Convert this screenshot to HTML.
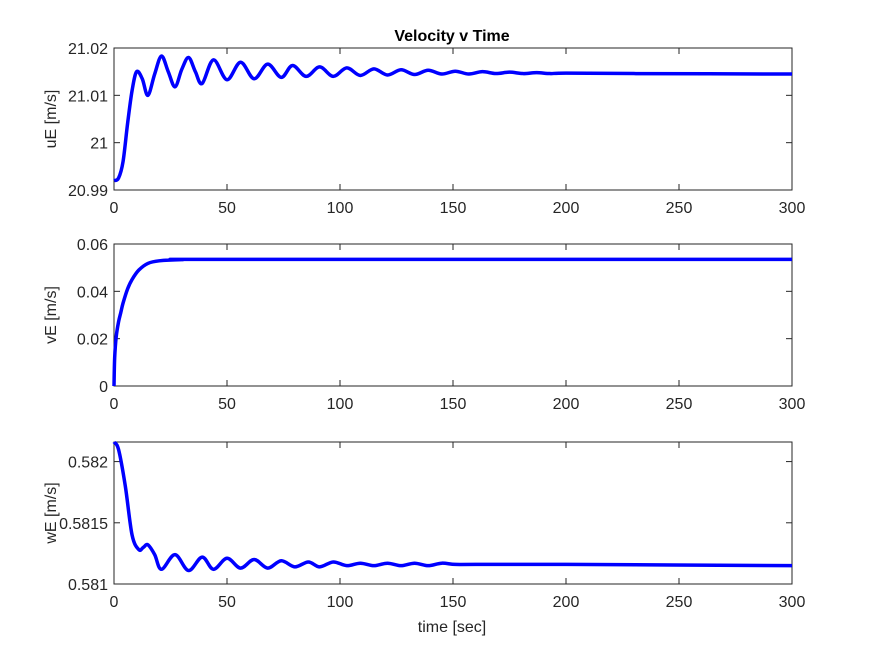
<!DOCTYPE html>
<html><head><meta charset="utf-8"><style>
body{margin:0;background:#fff}
svg text{font-family:"Liberation Sans",Arial,sans-serif;fill:#262626}
</style></head><body>
<svg id="fig" width="875" height="656" xmlns="http://www.w3.org/2000/svg">
<rect width="875" height="656" fill="#fff"/>
<text x="452" y="41" text-anchor="middle" font-size="16" font-weight="bold" style="fill:#000">Velocity v Time</text>
<text x="452" y="632" text-anchor="middle" font-size="16">time [sec]</text>
</svg>
<script>
const xTicks=[0,50,100,150,200,250,300];
const uT=[0,2,4,6,8,10,12.5,15,18,21,24,27,30,33,36,39,44,50,56,62,68,74,79,85,91,97,103,109,115,121,127,133,139,145,151,157,163,169,175,181,187,193,200,230,300];
const uV=[20.992,20.9925,20.996,21.004,21.011,21.015,21.0135,21.010,21.0145,21.0183,21.015,21.0118,21.0155,21.018,21.015,21.0125,21.0175,21.0133,21.017,21.0135,21.0166,21.0138,21.0163,21.014,21.016,21.014,21.0158,21.0142,21.0156,21.0143,21.0154,21.0144,21.0153,21.0145,21.0151,21.0145,21.015,21.0146,21.0149,21.0146,21.0148,21.0146,21.0147,21.0146,21.0145];
const uTicks=[20.99,21,21.01,21.02];const uLabels=["20.99","21","21.01","21.02"];
const vT=[0,0.3,1,2,3,4,6,8,11,15,20,30,50,300];
const vV=[0,0.012,0.021,0.027,0.031,0.035,0.041,0.045,0.049,0.0518,0.0529,0.0534,0.0535,0.0535];
const vTicks=[0,0.02,0.04,0.06];const vLabels=["0","0.02","0.04","0.06"];
const wT=[0,2,5,8,11,13,15,18,21,27,33,39,44,50,56,62,68,74,80,86,91,97,103,109,115,121,127,133,139,145,151,160,200,300];
const wV=[0.58216,0.5821,0.5818,0.5814,0.58128,0.5813,0.58132,0.58124,0.58112,0.58124,0.58111,0.58122,0.58112,0.58121,0.58113,0.5812,0.58113,0.58119,0.58114,0.58118,0.58114,0.58118,0.58115,0.58117,0.58115,0.58117,0.58115,0.58117,0.58115,0.58117,0.58116,0.58116,0.58116,0.58115];
const wTicks=[0.581,0.5815,0.582];const wLabels=["0.581","0.5815","0.582"];
const svg=document.getElementById('fig');const NS='http://www.w3.org/2000/svg';
const X0=114,X1=792;
function mk(t,a){const e=document.createElementNS(NS,t);for(const k in a)e.setAttribute(k,a[k]);svg.appendChild(e);return e;}
function panel(name,top,bot,ymin,ymax,yt,yl,T,V,ylabel){
 const sx=t=>X0+(t-0)/300*(X1-X0), sy=v=>bot-(v-ymin)/(ymax-ymin)*(bot-top);
 const ax=mk('rect',{x:X0,y:top,width:X1-X0,height:bot-top,fill:'#fff',stroke:'#262626','stroke-width':1});
 
 
 xTicks.forEach(t=>{const x=sx(t);
  mk('line',{x1:x,x2:x,y1:bot,y2:bot-6,stroke:'#262626'});mk('line',{x1:x,x2:x,y1:top,y2:top+6,stroke:'#262626'});
  const tx=mk('text',{x:x,y:bot+23,'text-anchor':'middle','font-size':16});tx.textContent=t;
  
  });
 yt.forEach((v,i)=>{const y=sy(v);
  mk('line',{x1:X0,x2:X0+6,y1:y,y2:y,stroke:'#262626'});mk('line',{x1:X1,x2:X1-6,y1:y,y2:y,stroke:'#262626'});
  const tx=mk('text',{x:X0-6,y:y+6,'text-anchor':'end','font-size':16});tx.textContent=yl[i];
  
  });
 const cy=(top+bot)/2;
 const lab=mk('text',{x:0,y:0,'text-anchor':'middle','font-size':16,transform:`translate(56,${cy}) rotate(-90)`});lab.textContent=ylabel;
 
 
 const P=T.map((t,i)=>[sx(t),sy(V[i])]);
 let d='M'+P[0][0]+','+P[0][1];
 for(let i=0;i<P.length-1;i++){const p0=P[i-1]||P[i],p1=P[i],p2=P[i+1],p3=P[i+2]||P[i+1];
  d+=` C${p1[0]+(p2[0]-p0[0])/6},${p1[1]+(p2[1]-p0[1])/6} ${p2[0]-(p3[0]-p1[0])/6},${p2[1]-(p3[1]-p1[1])/6} ${p2[0]},${p2[1]}`;}
 const ln=mk('path',{d:d,fill:'none',stroke:'#0000ff','stroke-width':3.5,'stroke-linejoin':'round'});
 
 
}
panel('ue',48,190,20.99,21.02,uTicks,uLabels,uT,uV,'uE [m/s]');
panel('ve',244,386,0,0.06,vTicks,vLabels,vT,vV,'vE [m/s]');
panel('we',442,584,0.581,0.58216,wTicks,wLabels,wT,wV,'wE [m/s]');
</script>
</body></html>
